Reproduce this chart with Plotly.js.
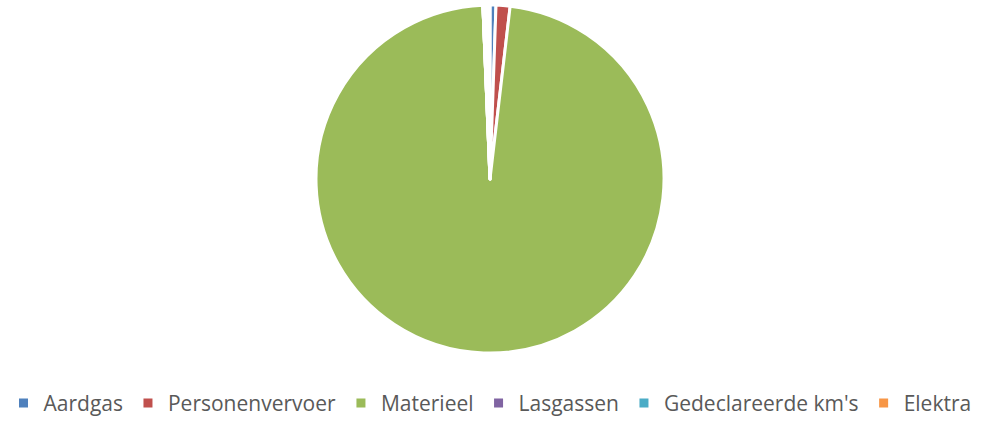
<!DOCTYPE html>
<html>
<head>
<meta charset="utf-8">
<script src="https://cdn.plot.ly/plotly-3.0.1.min.js"></script>
<style>html,body{margin:0;padding:0;background:#fff;}#chart{width:987px;height:424px;}</style>
</head>
<body>
<div id="chart"></div>
<script>
// Categories and shares (percent)
const categories = ["Aardgas", "Personenvervoer", "Materieel", "Lasgassen", "Gedeclareerde km's", "Elektra"];
const shares = [0.55, 1.3, 97.5, 0, 0, 0];
const colors = ["#4F81BD", "#C0504D", "#9BBB59", "#8064A2", "#4BACC6", "#F79646"];
// Unfilled (white) wedge visible just left of 12 o'clock
const gapLabel = "(leeg)";
const gapShare = 0.65;
const gapColor = "#FFFFFF";

const pieTrace = {
  type: "pie",
  labels: categories.concat([gapLabel]),
  values: shares.concat([gapShare]),
  marker: { colors: colors.concat([gapColor]), line: { color: "#FFFFFF", width: 3 } },
  sort: false,
  direction: "clockwise",
  rotation: 0,
  textinfo: "none",
  hoverinfo: "label+percent",
  showlegend: false,
  domain: { x: [0, 1], y: [0, 1] }
};

const legendTraces = categories.map((c, i) => ({
  type: "scatter",
  mode: "markers",
  x: [null], y: [null],
  name: c,
  marker: { symbol: "square", size: 9, color: colors[i] },
  hoverinfo: "skip",
  showlegend: true
}));

const layout = {
  width: 987, height: 424,
  margin: { l: 0, r: 7, t: 5, b: 68 },
  paper_bgcolor: "#FFFFFF",
  plot_bgcolor: "rgba(0,0,0,0)",
  xaxis: { visible: false },
  yaxis: { visible: false },
  showlegend: true,
  legend: {
    orientation: "h",
    x: 0.5, xanchor: "center",
    y: -0.145, yanchor: "middle",
    font: { family: "Open Sans, sans-serif", size: 21, color: "#595959" },
    itemclick: false, itemdoubleclick: false
  },
  font: { family: "Open Sans, sans-serif", color: "#595959" }
};

Plotly.newPlot("chart", [pieTrace].concat(legendTraces), layout, { displayModeBar: false, staticPlot: true });
</script>
</body>
</html>
